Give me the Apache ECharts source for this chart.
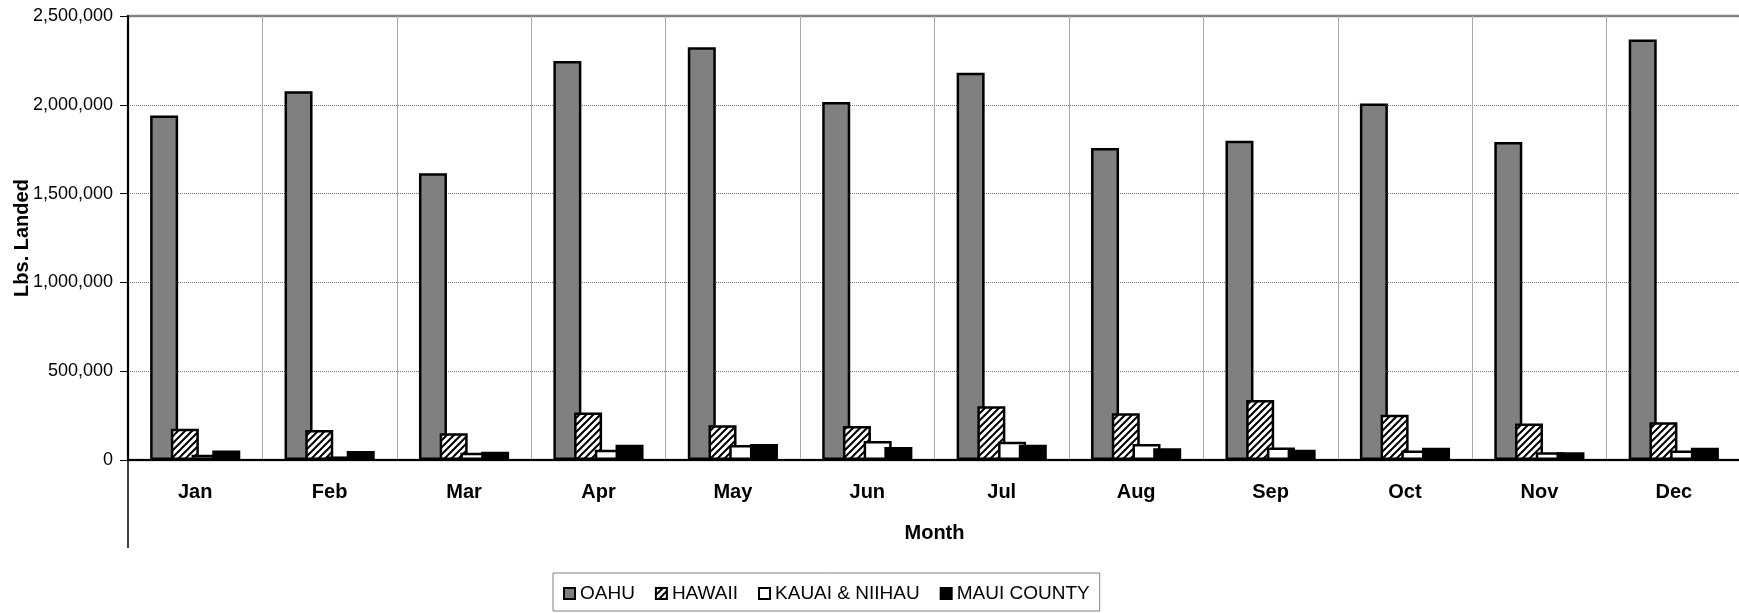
<!DOCTYPE html>
<html>
<head>
<meta charset="utf-8">
<script src="https://cdn.jsdelivr.net/npm/echarts@6/dist/echarts.min.js"></script>
<style>
  html, body { margin: 0; padding: 0; background: #fff; }
  #chart { width: 1739px; height: 613px; }
</style>
</head>
<body>
<div id="chart"></div>
<script>
// data
var months = ['Jan', 'Feb', 'Mar', 'Apr', 'May', 'Jun', 'Jul', 'Aug', 'Sep', 'Oct', 'Nov', 'Dec'];
var oahu   = [1940000, 2076000, 1614000, 2247000, 2324000, 2016000, 2181000, 1757000, 1798000, 2008000, 1791000, 2367000];
var hawaii = [176000, 169000, 150000, 268000, 195000, 191000, 302000, 263000, 338000, 255000, 205000, 212000];
var kauai  = [30000, 20000, 41000, 58000, 84000, 107000, 103000, 90000, 71000, 53000, 43000, 54000];
var maui   = [54000, 50000, 47000, 86000, 90000, 73000, 86000, 66000, 58000, 69000, 43000, 69000];
var yTicks = [0, 500000, 1000000, 1500000, 2000000, 2500000];

var sans = '"Liberation Sans", Arial, sans-serif';

// diagonal hatch for HAWAII
function hatch() {
  var s = 7;
  var c = document.createElement('canvas');
  c.width = s; c.height = s;
  var ctx = c.getContext('2d');
  ctx.fillStyle = '#fff';
  ctx.fillRect(0, 0, s, s);
  ctx.strokeStyle = '#000';
  ctx.lineWidth = 2;
  ctx.beginPath();
  ctx.moveTo(-1, s + 1); ctx.lineTo(s + 1, -1);
  ctx.moveTo(-1, 1); ctx.lineTo(1, -1);
  ctx.moveTo(s - 1, s + 1); ctx.lineTo(s + 1, s - 1);
  ctx.stroke();
  return { image: c, repeat: 'repeat' };
}

function bar(name, data, color) {
  return {
    name: name,
    type: 'bar',
    data: data,
    barWidth: 28,
    barGap: '-26%',
    itemStyle: { color: color, borderColor: '#000', borderWidth: 2.5 }
  };
}

var chart = echarts.init(document.getElementById('chart'));
chart.setOption({
  animation: false,
  backgroundColor: '#fff',
  grid: {
    left: 128, right: -2, top: 16, bottom: 153,
    outerBoundsMode: 'none',
    show: true, borderColor: '#888', borderWidth: 2.5
  },
  legend: {
    left: 553, top: 573,
    padding: [11, 10, 8, 10],
    icon: 'rect',
    itemWidth: 11, itemHeight: 11, itemGap: 20,
    borderColor: '#808080', borderWidth: 1,
    textStyle: { fontFamily: sans, fontSize: 19, color: '#000' },
    data: ['OAHU', 'HAWAII', 'KAUAI & NIIHAU', 'MAUI COUNTY']
  },
  xAxis: {
    type: 'category',
    data: months,
    name: 'Month',
    nameLocation: 'middle',
    nameGap: 63,
    nameMoveOverlap: false,
    nameTextStyle: { fontFamily: sans, fontSize: 20, fontWeight: 'bold', color: '#000' },
    axisLine: { lineStyle: { color: '#000', width: 2 } },
    axisTick: { length: 45, interval: 0, lineStyle: { color: '#333', width: 1 } },
    axisLabel: { interval: 0, margin: 22, fontFamily: sans, fontSize: 20, fontWeight: 'bold', color: '#000' },
    splitLine: { show: true, interval: 0, lineStyle: { color: '#aaa', width: 1 } }
  },
  yAxis: {
    type: 'value',
    min: yTicks[0],
    max: yTicks[yTicks.length - 1],
    interval: yTicks[1] - yTicks[0],
    name: 'Lbs. Landed',
    nameLocation: 'middle',
    nameGap: 96,
    nameMoveOverlap: false,
    nameTextStyle: { fontFamily: sans, fontSize: 20, fontWeight: 'bold', color: '#000' },
    axisLine: { show: true, lineStyle: { color: '#000', width: 2 } },
    axisTick: { show: true, length: 8, lineStyle: { color: '#000', width: 1 } },
    axisLabel: {
      margin: 15, fontFamily: sans, fontSize: 18, color: '#000',
      formatter: function (v) { return v.toLocaleString('en-US'); }
    },
    splitLine: { lineStyle: { color: '#777', type: 'dotted', width: 1 } }
  },
  // y axis line runs on down through the month label band
  graphic: [{
    type: 'line',
    shape: { x1: 128, y1: 460, x2: 128, y2: 548 },
    style: { stroke: '#000', lineWidth: 1.5 }
  }],
  series: [
    bar('OAHU', oahu, '#808080'),
    bar('HAWAII', hawaii, hatch()),
    bar('KAUAI & NIIHAU', kauai, '#fff'),
    bar('MAUI COUNTY', maui, '#000')
  ]
});
</script>
</body>
</html>
